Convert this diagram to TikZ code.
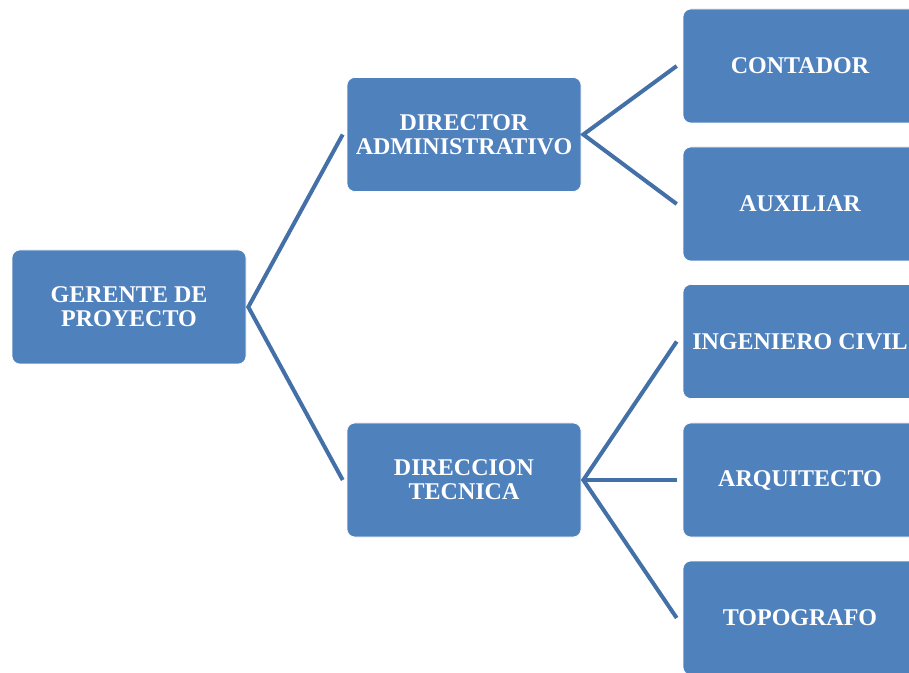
\documentclass[tikz,border=0pt]{standalone}
\usepackage{fontspec}
\setmainfont{Liberation Serif}
\usetikzlibrary{calc}
\definecolor{boxblue}{HTML}{4F81BD}
\definecolor{lineblue}{HTML}{4470A8}
\begin{document}
\begin{tikzpicture}[x=1pt,y=1pt,
  orgbox/.style={rectangle, rounded corners=8pt, fill=boxblue, draw=white, line width=0.6pt,
    minimum width=234pt, minimum height=114pt, inner sep=0pt, align=center,
    text=white, font=\fontsize{24}{24}\selectfont\bfseries},
  conn/.style={draw=lineblue, line width=4pt, line join=miter}]
\useasboundingbox (0,0) rectangle (909,672);
\clip (0,0) rectangle (909,672);
\fill[white] (0,0) rectangle (909,672);
\node[orgbox] (g) at (129,365) {GERENTE DE\\PROYECTO};
\node[orgbox] (da) at (464,537.5) {DIRECTOR\\ADMINISTRATIVO};
\node[orgbox] (dt) at (464,192) {DIRECCION\\TECNICA};
\node[orgbox] (c1) at (800,606) {CONTADOR};
\node[orgbox] (c2) at (800,468) {AUXILIAR};
\node[orgbox] (c3) at (800,330.5) {INGENIERO CIVIL};
\node[orgbox] (c4) at (800,192) {ARQUITECTO};
\node[orgbox] (c5) at (800,54) {TOPOGRAFO};
\coordinate (gs) at ($(g.east)+(2,0)$);
\coordinate (das) at ($(da.east)+(2,0)$);
\coordinate (dts) at ($(dt.east)+(2,0)$);
\draw[conn] ($(da.west)+(-4,0)$) -- (gs) -- ($(dt.west)+(-4,0)$);
\draw[conn] ($(c1.west)+(-6,0)$) -- (das) -- ($(c2.west)+(-6,0)$);
\draw[conn] ($(c3.west)+(-6,0)$) -- (dts) -- ($(c5.west)+(-6,0)$);
\draw[conn] (dts) -- ($(c4.west)+(-6,0)$);
\end{tikzpicture}
\end{document}
